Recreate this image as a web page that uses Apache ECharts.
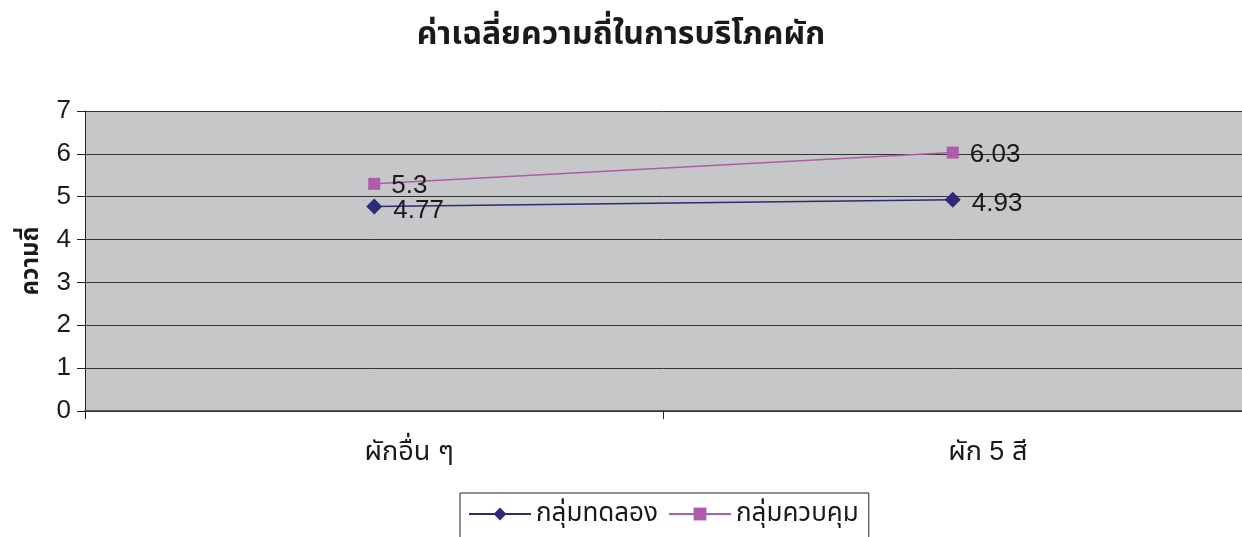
<!DOCTYPE html>
<html>
<head>
<meta charset="utf-8">
<script src="https://cdn.jsdelivr.net/npm/echarts@6/dist/echarts.min.js"></script>
<style>
html,body{margin:0;padding:0;background:#fff;}
#chart{width:1242px;height:537px;}
</style>
</head>
<body>
<div id="chart"></div>
<script>
// ข้อมูล
var categories = ['ผักอื่น ๆ', 'ผัก 5 สี'];
var seriesNames = ['กลุ่มทดลอง', 'กลุ่มควบคุม'];
var experimentValues = [4.77, 4.93];
var controlValues = [5.3, 6.03];
var yTicks = [0, 1, 2, 3, 4, 5, 6, 7];

var FONT = '"Liberation Sans", "Noto Sans Thai", Arial, sans-serif';

var myChart = echarts.init(document.getElementById('chart'));
var option = {
    backgroundColor: '#fff',
    textStyle: { fontFamily: FONT },
    title: {
        text: 'ค่าเฉลี่ยความถี่ในการบริโภคผัก',
        left: 'center',
        top: 14,
        textStyle: { fontSize: 32, fontWeight: 'bold', color: '#1a1a1a', fontFamily: FONT }
    },
    legend: {
        bottom: -6,
        left: 460,
        data: seriesNames,
        borderColor: '#222',
        borderWidth: 1,
        padding: [8, 10, 16, 8],
        itemWidth: 62,
        itemHeight: 16,
        itemGap: 10,
        textStyle: { fontSize: 26, color: '#1a1a1a', fontFamily: FONT }
    },
    grid: {
        left: 85,
        right: -1,
        top: 111,
        bottom: 126,
        show: true,
        backgroundColor: '#c6c7c9',
        borderWidth: 0
    },
    xAxis: {
        type: 'category',
        data: categories,
        boundaryGap: true,
        axisLine: { lineStyle: { color: '#333', width: 1.5 } },
        axisTick: { show: true, length: 8, lineStyle: { color: '#222' } },
        axisLabel: { fontSize: 27, color: '#1a1a1a', margin: 28, padding: [0, 0, 0, 70], fontFamily: FONT }
    },
    yAxis: {
        type: 'value',
        min: yTicks[0],
        max: yTicks[yTicks.length - 1],
        interval: 1,
        name: 'ความถี่',
        nameLocation: 'middle',
        nameGap: 42,
        nameRotate: 90,
        nameTextStyle: { fontSize: 24, fontWeight: 'bold', color: '#1a1a1a', fontFamily: FONT },
        axisLine: { show: true, lineStyle: { color: '#222' } },
        axisTick: { show: true, length: 8, lineStyle: { color: '#222' } },
        axisLabel: { fontSize: 26, color: '#1a1a1a', margin: 14, fontFamily: FONT },
        splitLine: { show: true, lineStyle: { color: '#333', width: 1 } }
    },
    series: [
        {
            name: seriesNames[0],
            type: 'line',
            data: experimentValues,
            symbol: 'diamond',
            symbolSize: 16,
            color: '#2d2b78',
            lineStyle: { width: 1.5, color: '#2d2b78' },
            label: {
                show: true,
                position: 'right',
                distance: 11,
                fontSize: 26,
                color: '#1a1a1a',
                offset: [0, 4],
                fontFamily: FONT
            }
        },
        {
            name: seriesNames[1],
            type: 'line',
            data: controlValues,
            symbol: 'rect',
            symbolSize: 12,
            color: '#b05aaa',
            lineStyle: { width: 1.5, color: '#b05aaa' },
            label: {
                show: true,
                position: 'right',
                distance: 11,
                fontSize: 26,
                color: '#1a1a1a',
                offset: [0, 2],
                fontFamily: FONT
            }
        }
    ]
};
myChart.setOption(option);
</script>
</body>
</html>
